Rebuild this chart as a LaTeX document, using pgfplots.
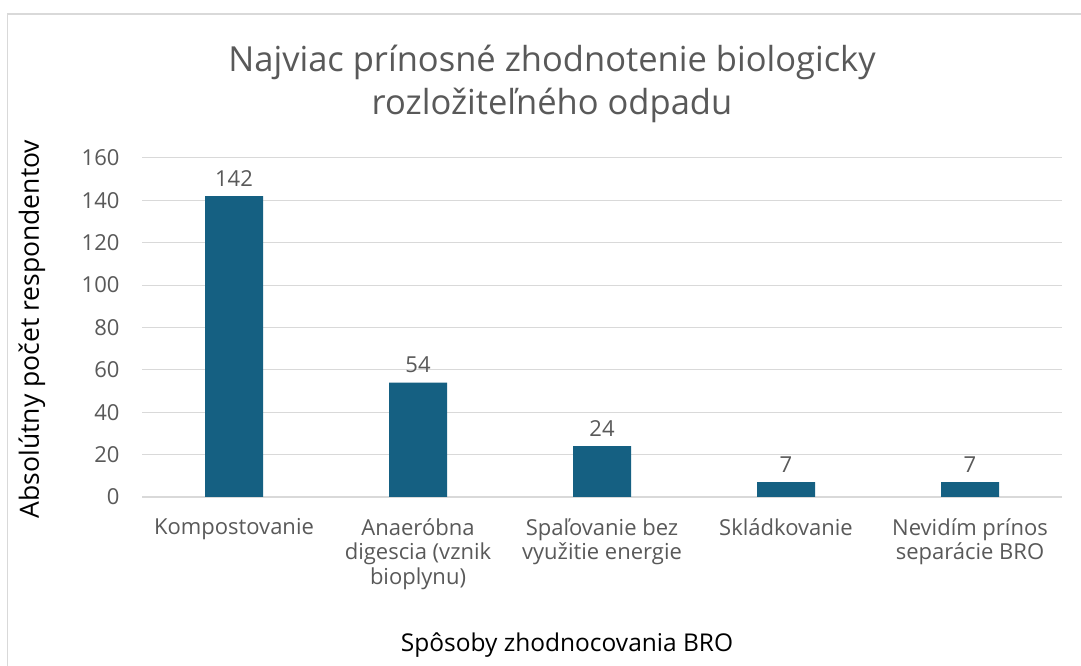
\documentclass[border=0pt]{standalone}
\usepackage{pgfplots}
\pgfplotsset{compat=1.18}
\usepackage{fontspec}
\setmainfont{Open Sans}
\definecolor{barc}{HTML}{156082}
\definecolor{txt}{HTML}{595959}
\definecolor{gridc}{HTML}{D9D9D9}
\begin{document}
\begin{tikzpicture}
\clip (0pt,0pt) rectangle (1081pt,666pt);
\fill[white] (0pt,0pt) rectangle (1081pt,666pt);
\draw[gridc, line width=1.2pt] (7.5pt,-20pt) rectangle (1120pt,652pt);
\begin{axis}[
  at={(142pt,169pt)}, anchor=south west,
  scale only axis, width=920pt, height=339pt,
  xmin=-0.5, xmax=4.5, ymin=0, ymax=160,
  ytick={0,20,...,160},
  xtick=data,
  xticklabels={Kompostovanie,{Anaeróbna\\digescia (vznik\\bioplynu)},{Spaľovanie bez\\využitie energie},Skládkovanie,{Nevidím prínos\\separácie BRO}},
  xticklabel style={align=center, font=\fontsize{22}{24.5}\selectfont, text=txt, yshift=-18pt},
  yticklabel style={font=\fontsize{22}{24}\selectfont, text=txt, xshift=-19pt},
  /pgf/number format/assume math mode=true,
  axis line style={draw=none},
  axis x line*=bottom,
  major tick length=0pt,
  ymajorgrids, grid style={gridc, line width=1pt},
  extra y ticks={0}, extra y tick labels={}, extra y tick style={grid style={gridc, line width=1.2pt}},
  ybar, bar width=58pt,
  nodes near coords,
  every node near coord/.append style={font=\fontsize{22}{24}\selectfont, text=txt, yshift=6pt},
]
\addplot[fill=barc, draw=none] coordinates {(0,142) (1,54) (2,24) (3,7) (4,7)};
\end{axis}
\node[align=center, text=txt, font=\fontsize{34.5}{43}\selectfont] at (552pt,582pt) {Najviac prínosné zhodnotenie biologicky\\rozložiteľného odpadu};
\node[rotate=90, font=\fontsize{26.5}{24}\selectfont, text=black] at (32pt,337pt) {Absolútny počet respondentov};
\node[font=\fontsize{24.5}{24}\selectfont, text=black] at (567pt,21pt) {Spôsoby zhodnocovania BRO};
\end{tikzpicture}
\end{document}
